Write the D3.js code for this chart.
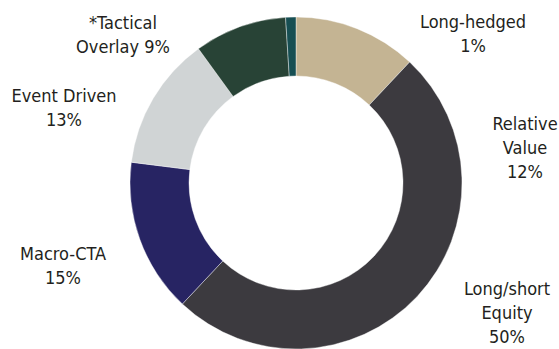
<!DOCTYPE html>
<html lang="en">
<head>
    <meta charset="UTF-8">
    <title>Allocation</title>
    <style>
        html,
        body {
            margin: 0;
            height: 100%;
            overflow: hidden;
            background: #fff;
        }
        text {
            font-family: "DejaVu Sans Condensed", "Liberation Sans Narrow", sans-serif;
            font-stretch: condensed;
            font-size: 18px;
            fill: #231f20;
        }
    </style>
    <script src="https://d3js.org/d3.v7.min.js"></script>
</head>
<body>
    <svg id="svg"></svg>
    <script>
        const width = 559;
        const height = 349;
        const svg = d3.select('#svg').attr('width', width).attr('height', height);

        // slices, clockwise from 12 o'clock
        const sliceKeys = ['Relative Value', 'Long/short Equity', 'Macro-CTA', 'Event Driven', '*Tactical Overlay', 'Long-hedged'];
        const sliceValues = [12, 50, 15, 13, 9, 1];
        const sliceColors = ['#c4b493', '#3c3a3f', '#272463', '#d0d4d5', '#284336', '#174f53'];

        // label lines as printed on the chart
        const labelLines = [
            ['*Tactical', 'Overlay 9%'],
            ['Event Driven', '13%'],
            ['Macro-CTA', '15%'],
            ['Long-hedged', '1%'],
            ['Relative', 'Value', '12%'],
            ['Long/short', 'Equity', '50%']
        ];
        // anchor (center x, first baseline y) for each label block
        const labelPos = [[123, 29], [64, 102], [63, 260], [473, 28], [525, 130], [507, 295]];

        const cx = 296, cy = 183;
        const outerR = 166, innerR = 107;

        const pie = d3.pie().sort(null).value(d => d)(sliceValues);
        const arc = d3.arc().innerRadius(innerR).outerRadius(outerR);
        const color = d3.scaleOrdinal().domain(sliceKeys).range(sliceColors);

        const g = svg.append('g').attr('transform', `translate(${cx},${cy})`);
        g.selectAll('path').data(pie).join('path')
            .attr('d', arc)
            .attr('fill', (d, i) => color(sliceKeys[i]))
            .attr('stroke', '#fff')
            .attr('stroke-width', 0.4);

        const lineH = 24;
        svg.selectAll('.lbl').data(labelLines).join('text').attr('class', 'lbl')
            .attr('text-anchor', 'middle')
            .attr('x', (d, i) => labelPos[i][0])
            .attr('y', (d, i) => labelPos[i][1])
            .selectAll('tspan').data(d => d).join('tspan')
            .attr('x', function () { return this.parentNode.getAttribute('x'); })
            .attr('dy', (d, j) => j === 0 ? 0 : lineH)
            .text(d => d);
    </script>
</body>
</html>
